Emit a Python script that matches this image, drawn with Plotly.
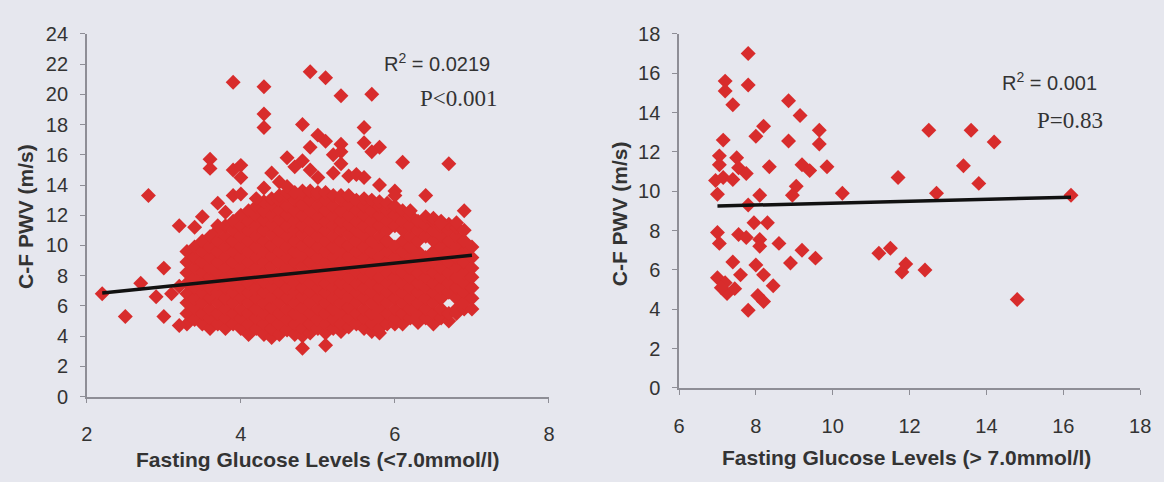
import plotly.graph_objects as go

# ---------------- Left panel: fasting glucose < 7.0 mmol/l ----------------
glucose_lo = [
    3.3, 3.3, 3.3, 3.3, 3.3, 3.3, 3.3, 3.3,
    3.4, 3.4, 3.4, 3.4, 3.4, 3.4, 3.4, 3.4,
    3.5, 3.5, 3.5, 3.5, 3.5, 3.5, 3.5, 3.5, 3.5,
    3.6, 3.6, 3.6, 3.6, 3.6, 3.6, 3.6, 3.6, 3.6, 3.6,
    3.7, 3.7, 3.7, 3.7, 3.7, 3.7, 3.7, 3.7, 3.7, 3.7,
    3.8, 3.8, 3.8, 3.8, 3.8, 3.8, 3.8, 3.8, 3.8, 3.8, 3.8,
    3.9, 3.9, 3.9, 3.9, 3.9, 3.9, 3.9, 3.9, 3.9, 3.9, 3.9,
    4.0, 4.0, 4.0, 4.0, 4.0, 4.0, 4.0, 4.0, 4.0, 4.0, 4.0, 4.0,
    4.1, 4.1, 4.1, 4.1, 4.1, 4.1, 4.1, 4.1, 4.1, 4.1, 4.1, 4.1, 4.1,
    4.2, 4.2, 4.2, 4.2, 4.2, 4.2, 4.2, 4.2, 4.2, 4.2, 4.2, 4.2, 4.2,
    4.3, 4.3, 4.3, 4.3, 4.3, 4.3, 4.3, 4.3, 4.3, 4.3, 4.3, 4.3, 4.3, 4.3,
    4.4, 4.4, 4.4, 4.4, 4.4, 4.4, 4.4, 4.4, 4.4, 4.4, 4.4, 4.4, 4.4, 4.4, 4.4,
    4.5, 4.5, 4.5, 4.5, 4.5, 4.5, 4.5, 4.5, 4.5, 4.5, 4.5, 4.5, 4.5, 4.5, 4.5,
    4.6, 4.6, 4.6, 4.6, 4.6, 4.6, 4.6, 4.6, 4.6, 4.6, 4.6, 4.6, 4.6, 4.6, 4.6,
    4.7, 4.7, 4.7, 4.7, 4.7, 4.7, 4.7, 4.7, 4.7, 4.7, 4.7, 4.7, 4.7, 4.7, 4.7,
    4.8, 4.8, 4.8, 4.8, 4.8, 4.8, 4.8, 4.8, 4.8, 4.8, 4.8, 4.8, 4.8, 4.8, 4.8, 4.8,
    4.9, 4.9, 4.9, 4.9, 4.9, 4.9, 4.9, 4.9, 4.9, 4.9, 4.9, 4.9, 4.9, 4.9, 4.9,
    5.0, 5.0, 5.0, 5.0, 5.0, 5.0, 5.0, 5.0, 5.0, 5.0, 5.0, 5.0, 5.0, 5.0, 5.0,
    5.1, 5.1, 5.1, 5.1, 5.1, 5.1, 5.1, 5.1, 5.1, 5.1, 5.1, 5.1, 5.1, 5.1, 5.1,
    5.2, 5.2, 5.2, 5.2, 5.2, 5.2, 5.2, 5.2, 5.2, 5.2, 5.2, 5.2, 5.2, 5.2,
    5.3, 5.3, 5.3, 5.3, 5.3, 5.3, 5.3, 5.3, 5.3, 5.3, 5.3, 5.3, 5.3, 5.3, 5.3,
    5.4, 5.4, 5.4, 5.4, 5.4, 5.4, 5.4, 5.4, 5.4, 5.4, 5.4, 5.4, 5.4, 5.4,
    5.5, 5.5, 5.5, 5.5, 5.5, 5.5, 5.5, 5.5, 5.5, 5.5, 5.5, 5.5, 5.5,
    5.6, 5.6, 5.6, 5.6, 5.6, 5.6, 5.6, 5.6, 5.6, 5.6, 5.6, 5.6, 5.6, 5.6,
    5.7, 5.7, 5.7, 5.7, 5.7, 5.7, 5.7, 5.7, 5.7, 5.7, 5.7, 5.7, 5.7, 5.7,
    5.8, 5.8, 5.8, 5.8, 5.8, 5.8, 5.8, 5.8, 5.8, 5.8, 5.8, 5.8, 5.8, 5.8, 5.8,
    5.9, 5.9, 5.9, 5.9, 5.9, 5.9, 5.9, 5.9, 5.9, 5.9, 5.9, 5.9, 5.9,
    6.0, 6.0, 6.0, 6.0, 6.0, 6.0, 6.0, 6.0, 6.0, 6.0, 6.0, 6.0,
    6.1, 6.1, 6.1, 6.1, 6.1, 6.1, 6.1, 6.1, 6.1, 6.1, 6.1, 6.1,
    6.2, 6.2, 6.2, 6.2, 6.2, 6.2, 6.2, 6.2, 6.2, 6.2, 6.2, 6.2,
    6.3, 6.3, 6.3, 6.3, 6.3, 6.3, 6.3, 6.3, 6.3, 6.3, 6.3,
    6.4, 6.4, 6.4, 6.4, 6.4, 6.4, 6.4, 6.4, 6.4, 6.4,
    6.5, 6.5, 6.5, 6.5, 6.5, 6.5, 6.5, 6.5, 6.5, 6.5, 6.5, 6.5,
    6.6, 6.6, 6.6, 6.6, 6.6, 6.6, 6.6, 6.6, 6.6, 6.6, 6.6,
    6.7, 6.7, 6.7, 6.7, 6.7, 6.7, 6.7, 6.7, 6.7, 6.7,
    6.8, 6.8, 6.8, 6.8, 6.8, 6.8, 6.8, 6.8, 6.8, 6.8,
    6.9, 6.9, 6.9, 6.9, 6.9, 6.9, 6.9, 6.9, 6.9,
    7.0, 7.0, 7.0, 7.0, 7.0, 7.0, 7.0,
    2.2, 2.5, 2.7, 2.8, 2.9, 3.0, 3.0, 3.1, 3.2, 3.2, 3.2, 3.4, 3.7, 3.5, 3.7, 3.8,
    3.6, 3.6, 3.9, 4.0, 4.0, 3.9, 4.0, 4.2, 3.9, 4.3, 4.3, 4.3, 4.4, 4.3, 4.5, 4.6,
    4.6, 4.7, 4.8, 4.9, 4.8, 4.9, 5.1, 5.3, 5.7, 5.0, 5.1, 4.9, 5.3, 5.3, 5.6, 5.8,
    5.7, 5.6, 6.1, 6.7, 5.0, 5.2, 5.4, 5.5, 5.6, 5.8, 6.0, 6.0, 6.4, 6.9, 6.6, 6.8,
    5.2, 5.3, 4.8, 5.1,
]
pwv_lo = [
    4.8, 5.5, 6.2, 6.8, 7.5, 8.2, 8.9, 9.6,
    5.1, 5.8, 6.5, 7.2, 7.8, 8.5, 9.2, 9.9,
    4.8, 5.5, 6.2, 6.9, 7.5, 8.2, 8.9, 9.6, 10.3,
    4.5, 5.2, 5.8, 6.5, 7.2, 7.9, 8.5, 9.2, 9.9, 10.6,
    4.8, 5.5, 6.2, 6.9, 7.5, 8.2, 8.9, 9.6, 10.3, 11.0,
    4.5, 5.2, 5.8, 6.5, 7.2, 7.9, 8.5, 9.2, 9.9, 10.6, 11.3,
    4.8, 5.5, 6.2, 6.9, 7.5, 8.2, 8.9, 9.6, 10.3, 11.0, 11.6,
    4.5, 5.2, 5.8, 6.5, 7.2, 7.9, 8.5, 9.2, 9.9, 10.6, 11.3, 12.0,
    4.1, 4.8, 5.5, 6.2, 6.9, 7.5, 8.2, 8.9, 9.6, 10.3, 11.0, 11.6, 12.3,
    4.5, 5.2, 5.8, 6.5, 7.2, 7.9, 8.5, 9.2, 9.9, 10.6, 11.3, 12.0, 12.6,
    4.1, 4.8, 5.5, 6.2, 6.9, 7.6, 8.2, 8.9, 9.6, 10.3, 11.0, 11.7, 12.3, 12.9,
    3.9, 4.5, 5.2, 5.9, 6.6, 7.3, 7.9, 8.6, 9.3, 10.0, 10.7, 11.4, 12.0, 12.7, 13.1,
    4.1, 4.8, 5.5, 6.2, 6.9, 7.6, 8.2, 8.9, 9.6, 10.3, 11.0, 11.7, 12.3, 13.0, 13.3,
    4.4, 5.1, 5.8, 6.5, 7.2, 7.9, 8.5, 9.2, 9.9, 10.6, 11.3, 12.0, 12.6, 13.3, 13.5,
    4.1, 4.8, 5.5, 6.2, 6.9, 7.5, 8.2, 8.9, 9.6, 10.3, 11.0, 11.6, 12.3, 13.0, 13.5,
    4.0, 4.5, 5.2, 5.9, 6.6, 7.2, 7.9, 8.6, 9.3, 10.0, 10.7, 11.3, 12.0, 12.7, 13.4, 13.6,
    4.2, 4.8, 5.5, 6.2, 6.9, 7.5, 8.2, 8.9, 9.6, 10.3, 11.0, 11.6, 12.3, 13.0, 13.6,
    4.5, 5.1, 5.8, 6.5, 7.2, 7.8, 8.5, 9.2, 9.9, 10.6, 11.3, 11.9, 12.6, 13.3, 13.5,
    4.2, 4.8, 5.5, 6.2, 6.9, 7.5, 8.2, 8.9, 9.6, 10.3, 11.0, 11.6, 12.3, 13.0, 13.5,
    4.5, 5.1, 5.8, 6.5, 7.2, 7.8, 8.5, 9.2, 9.9, 10.6, 11.3, 11.9, 12.6, 13.3,
    4.3, 4.8, 5.5, 6.2, 6.9, 7.5, 8.2, 8.9, 9.6, 10.3, 11.0, 11.6, 12.3, 13.0, 13.3,
    4.6, 5.2, 5.9, 6.6, 7.3, 7.9, 8.6, 9.3, 10.0, 10.7, 11.4, 12.0, 12.7, 13.3,
    4.8, 5.5, 6.2, 6.9, 7.5, 8.2, 8.9, 9.6, 10.3, 11.0, 11.6, 12.3, 13.0,
    4.5, 5.2, 5.8, 6.5, 7.2, 7.9, 8.5, 9.2, 9.9, 10.6, 11.3, 12.0, 12.6, 13.1,
    4.3, 4.8, 5.5, 6.2, 6.9, 7.5, 8.2, 8.9, 9.6, 10.3, 11.0, 11.6, 12.3, 13.0,
    4.2, 4.5, 5.2, 5.8, 6.5, 7.2, 7.9, 8.5, 9.2, 9.9, 10.6, 11.3, 12.0, 12.6, 12.9,
    4.8, 5.5, 6.2, 6.9, 7.5, 8.2, 8.9, 9.6, 10.3, 11.0, 11.6, 12.3, 12.8,
    4.8, 5.2, 5.8, 6.5, 7.2, 7.9, 8.5, 9.2, 9.9, 11.3, 12.0, 12.6,
    4.8, 5.5, 6.2, 6.9, 7.5, 8.2, 8.9, 9.6, 10.3, 11.0, 11.6, 12.3,
    5.2, 5.8, 6.5, 7.2, 7.9, 8.5, 9.2, 9.9, 10.6, 11.3, 12.0, 12.3,
    4.9, 5.5, 6.2, 6.9, 7.5, 8.2, 8.9, 9.6, 10.3, 11.0, 11.6,
    5.2, 5.8, 6.5, 7.2, 7.9, 8.5, 9.2, 10.6, 11.3, 11.9,
    4.8, 5.5, 6.2, 6.9, 7.5, 8.2, 8.9, 9.6, 10.3, 11.0, 11.6, 11.8,
    5.2, 5.8, 6.5, 7.2, 7.9, 8.5, 9.2, 9.9, 10.6, 11.3, 11.6,
    5.0, 5.5, 6.9, 7.5, 8.2, 8.9, 9.6, 10.3, 11.0, 11.4,
    5.5, 5.8, 6.5, 7.2, 7.9, 8.5, 9.2, 9.9, 10.6, 11.2,
    5.8, 6.2, 6.9, 7.5, 8.2, 8.9, 9.6, 10.3, 11.0,
    5.8, 6.5, 7.2, 7.9, 8.5, 9.2, 9.9,
    6.8, 5.3, 7.5, 13.3, 6.6, 8.5, 5.3, 6.8, 7.3, 4.7, 11.3, 11.2, 11.3, 11.9, 12.8, 12.2,
    15.7, 15.1, 15.0, 15.3, 14.5, 13.3, 13.4, 13.1, 20.8, 20.5, 18.7, 17.8, 14.8, 13.8, 14.2, 13.9,
    15.8, 15.2, 15.6, 15.0, 18.0, 21.5, 21.1, 19.9, 20.0, 17.3, 16.9, 16.5, 16.7, 16.2, 16.8, 16.5,
    16.2, 17.8, 15.5, 15.4, 14.5, 14.8, 14.6, 14.7, 14.5, 14.0, 13.6, 13.3, 13.3, 12.3, 11.5, 11.5,
    16.0, 15.4, 3.2, 3.4,
]
trend_lo_x = [2.2, 7.0]
trend_lo_y = [6.85, 9.35]

# ---------------- Right panel: fasting glucose > 7.0 mmol/l ----------------
glucose_hi = [
    7.8, 7.2, 7.2, 7.8, 7.4, 8.85, 9.15, 8.2, 8.0, 7.15, 8.85, 9.65, 9.65, 7.05, 7.5, 7.05,
    8.35, 9.2, 9.4, 9.85, 7.55, 7.75, 6.95, 7.15, 7.4, 7.0, 8.1, 9.05, 8.95, 10.25, 7.8,
    12.5, 13.6, 14.2, 11.7, 13.4, 13.8, 12.7, 16.2, 11.2, 11.5, 11.9, 11.8, 12.4, 14.8,
    7.0, 7.05, 7.55, 7.75, 7.95, 8.3, 8.1, 8.1, 8.6, 9.2, 9.55, 8.9, 7.4, 7.6, 7.0, 7.2,
    7.25, 8.0, 8.2, 8.45, 8.05, 8.2, 7.8, 7.1, 7.45,
]
pwv_hi = [
    17.0, 15.6, 15.1, 15.4, 14.4, 14.6, 13.85, 13.3, 12.8, 12.6, 12.55, 13.1, 12.4, 11.8, 11.7, 11.35,
    11.25, 11.35, 11.05, 11.25, 11.2, 10.9, 10.55, 10.7, 10.6, 9.85, 9.8, 10.25, 9.8, 9.9, 9.3,
    13.1, 13.1, 12.5, 10.7, 11.3, 10.4, 9.9, 9.8, 6.85, 7.1, 6.3, 5.9, 6.0, 4.5,
    7.9, 7.35, 7.8, 7.65, 8.4, 8.4, 7.55, 7.2, 7.35, 7.0, 6.6, 6.35, 6.4, 5.75, 5.6, 5.35,
    4.8, 6.25, 5.75, 5.2, 4.7, 4.4, 3.95, 5.1, 5.05,
]
trend_hi_x = [7.0, 16.2]
trend_hi_y = [9.25, 9.7]

x_ticks_lo = [2, 4, 6, 8]
x_ticks_hi = [6, 8, 10, 12, 14, 16, 18]
y_ticks_lo = list(range(0, 25, 2))
y_ticks_hi = list(range(0, 19, 2))

W, H = 1164, 482
BG = "#E6E7EE"
RED = "#D82C2C"
AXC = "#8E8E96"
TXT = "#333333"
SANS = "Liberation Sans, Arial, sans-serif"
SERIF = "Liberation Serif, Times New Roman, serif"

marker = dict(symbol="diamond", size=11.5, color=RED, line=dict(width=0))

fig = go.Figure()
fig.add_trace(go.Scatter(x=glucose_lo, y=pwv_lo, mode="markers", marker=marker,
                         xaxis="x", yaxis="y", showlegend=False))
fig.add_trace(go.Scatter(x=trend_lo_x, y=trend_lo_y, mode="lines",
                         line=dict(color="#111111", width=3.5),
                         xaxis="x", yaxis="y", showlegend=False))
fig.add_trace(go.Scatter(x=glucose_hi, y=pwv_hi, mode="markers", marker=marker,
                         xaxis="x2", yaxis="y2", showlegend=False))
fig.add_trace(go.Scatter(x=trend_hi_x, y=trend_hi_y, mode="lines",
                         line=dict(color="#111111", width=3.5),
                         xaxis="x2", yaxis="y2", showlegend=False))

axis_common = dict(showline=True, linecolor=AXC, linewidth=1.5, ticks="outside",
                   ticklen=5, tickcolor=AXC, tickwidth=1.2, showgrid=False,
                   zeroline=False, tickfont=dict(family=SANS, size=20, color=TXT))


def px_x(p):
    return p / W


def px_y(p):
    return 1 - p / H


fig.update_layout(
    width=W, height=H,
    paper_bgcolor=BG, plot_bgcolor=BG,
    margin=dict(l=0, r=0, t=0, b=0),
    xaxis=dict(domain=[px_x(82), px_x(551)], range=[2, 8], tickvals=x_ticks_lo,
               anchor="y", ticklabelstandoff=14, **axis_common),
    yaxis=dict(domain=[px_y(404), px_y(24)], range=[0, 24], tickvals=y_ticks_lo,
               anchor="x", ticklabelstandoff=8, **axis_common),
    xaxis2=dict(domain=[px_x(683), px_x(1151)], range=[6, 18], tickvals=x_ticks_hi,
                anchor="y2", ticklabelstandoff=14, **axis_common),
    yaxis2=dict(domain=[px_y(395), px_y(24)], range=[0, 18], tickvals=y_ticks_hi,
                anchor="x2", ticklabelstandoff=8, **axis_common),
)

ann = []


def add_text(text, X, Y, font, angle=0):
    ann.append(dict(text=text, x=px_x(X), y=px_y(Y), xref="paper", yref="paper",
                    xanchor="center", yanchor="middle", showarrow=False,
                    textangle=angle, font=font))


title_font = dict(family=SANS, size=21, color=TXT)
add_text("<b>Fasting Glucose Levels (&lt;7.0mmol/l)</b>", 317, 470, title_font)
add_text("<b>Fasting Glucose Levels (&gt; 7.0mmol/l)</b>", 914, 468, title_font)
add_text("<b>C-F PWV (m/s)</b>", 19, 215, title_font, angle=-90)
add_text("<b>C-F PWV (m/s)</b>", 622, 212, title_font, angle=-90)
add_text("R<sup>2</sup> = 0.0219", 437, 54, dict(family=SANS, size=20, color=TXT))
add_text("P&lt;0.001", 460, 92, dict(family=SERIF, size=23, color=TXT))
add_text("R<sup>2</sup> = 0.001", 1059, 74, dict(family=SANS, size=20, color=TXT))
add_text("P=0.83", 1080, 115, dict(family=SERIF, size=23, color=TXT))
fig.update_layout(annotations=ann)

fig.write_html(
    "out.html",
    config={"displayModeBar": False},
    post_script="document.body.style.margin='0px';document.body.style.overflow='hidden';",
)
